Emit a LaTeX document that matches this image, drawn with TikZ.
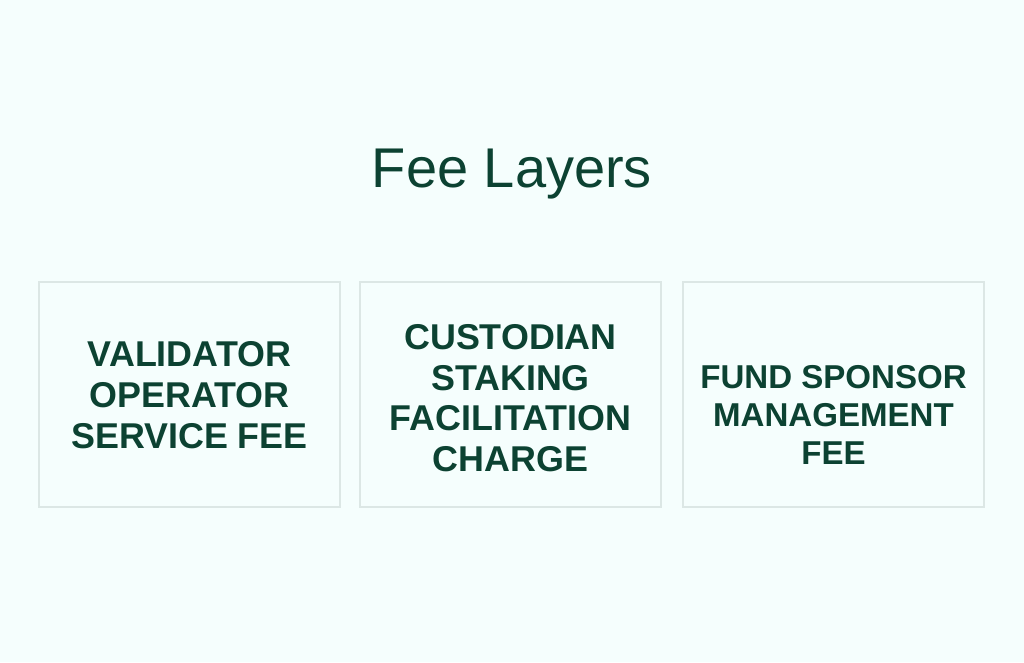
\documentclass[tikz,border=0pt]{standalone}
\usepackage{fontspec}
\setmainfont{Liberation Sans}
\definecolor{bgc}{HTML}{F5FEFD}
\definecolor{txt}{HTML}{0C4232}
\definecolor{brd}{HTML}{DCE7E5}
\begin{document}
\begin{tikzpicture}[x=0.75pt,y=-0.75pt,
  feebox/.style={draw=brd,line width=0.8pt,fill=bgc},
  feetext/.style={text=txt,align=center,font=\fontsize{26.9pt}{30.5pt}\selectfont\bfseries},
  feetextsm/.style={text=txt,align=center,font=\fontsize{24.8pt}{28.7pt}\selectfont\bfseries}]
\fill[bgc] (0,0) rectangle (1024,662);
\useasboundingbox (0,0) rectangle (1024,662);
\node[text=txt,anchor=base,font=\fontsize{42pt}{48pt}\selectfont] (title) at (512,187) {Fee Layers};
\draw[feebox] (39,282) rectangle (340,507);
\draw[feebox] (360,282) rectangle (661,507);
\draw[feebox] (683,282) rectangle (984,507);
\node[feetext] (b1) at (189.5,395) {VALIDATOR\\OPERATOR\\SERVICE FEE};
\node[feetext] (b2) at (510.5,398) {CUSTODIAN\\STAKING\\FACILITATION\\CHARGE};
\node[feetextsm] (b3) at (833.5,415) {FUND SPONSOR\\MANAGEMENT\\FEE};
\end{tikzpicture}
\end{document}
